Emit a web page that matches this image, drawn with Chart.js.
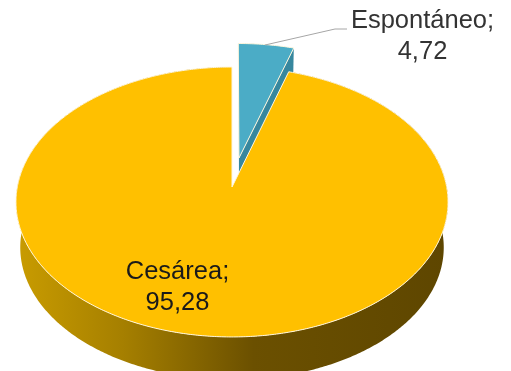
<!DOCTYPE html>
<html>
<head>
<meta charset="utf-8">
<title>Tipo de parto</title>
<script src="https://cdn.jsdelivr.net/npm/chart.js@4/dist/chart.umd.js"></script>
<style>
  html, body { margin: 0; padding: 0; background: #fff; }
  canvas { display: block; }
</style>
</head>
<body>
<canvas id="myChart" width="511" height="371"></canvas>
<script>
const categories = ['Espontáneo', 'Cesárea'];
const values = [4.72, 95.28];

// colours per slice, same order as categories
const sliceColors = ['#4BACC6', '#FFC000'];
const explode = [0.225, 0];

// label placement: [centre x, first baseline]
const labelPos = [[422.5, 28], [177.5, 279]];
const labelColors = ['#333333', '#1a1a1a'];
const leader = [[265, 45], [335, 29], [347, 29]];

// perspective of the tilted disc
const cx = 232, cy = 187;
const radiusX = 214.7, radiusY = 133.3, persp = 0.111;
const depthY = 46, depthScale = 0.02;

// unit disc coordinates -> canvas, z = 0 top face, z = 1 bottom face
function project(u, v, z) {
    const w = 1 / (1 - persp * v + depthScale * z);
    return [cx + radiusX * u * w, cy + depthY * z + radiusY * v * w];
}

function rimPoints(arc, index, z) {
    const mid = (arc.startAngle + arc.endAngle) / 2;
    const ox = Math.cos(mid) * explode[index];
    const oy = Math.sin(mid) * explode[index];
    const steps = Math.ceil((arc.endAngle - arc.startAngle) / 0.01);
    const pts = [];
    for (let i = 0; i <= steps; i++) {
        const a = arc.startAngle + (arc.endAngle - arc.startAngle) * i / steps;
        pts.push(project(ox + Math.cos(a), oy + Math.sin(a), z));
    }
    return { pts: pts, apex: project(ox, oy, z) };
}

function tracePath(ctx, pts) {
    ctx.beginPath();
    pts.forEach((p, i) => {
        if (i == 0) ctx.moveTo(p[0], p[1]);
        else ctx.lineTo(p[0], p[1]);
    });
    ctx.closePath();
}

const pie3d = {
    id: 'pie3d',
    beforeDatasetsDraw(chart) {
        const ctx = chart.ctx;
        const arcs = chart.getDatasetMeta(0).data;

        // shading of the outer wall, lit from the left
        const wall = ctx.createLinearGradient(16, 0, 448, 0);
        wall.addColorStop(0, '#C99C00');
        wall.addColorStop(0.25, '#A57F00');
        wall.addColorStop(0.55, '#6B5000');
        wall.addColorStop(1, '#5E4600');

        // the small slice sits behind the large one
        arcs.forEach((arc, i) => {
            const top = rimPoints(arc, i, 0);
            const bottom = rimPoints(arc, i, 1);
            const last = top.pts.length - 1;

            if (i == 0) {
                ctx.fillStyle = '#37879E';
                tracePath(ctx, [top.apex, top.pts[last], bottom.pts[last], bottom.apex]);
                ctx.fill();
            } else {
                ctx.fillStyle = wall;
                tracePath(ctx, top.pts.concat(bottom.pts.slice().reverse()));
                ctx.fill();
            }

            tracePath(ctx, [top.apex].concat(top.pts));
            ctx.fillStyle = arc.options.backgroundColor;
            ctx.fill();
            ctx.strokeStyle = arc.options.borderColor;
            ctx.lineWidth = arc.options.borderWidth;
            ctx.stroke();
        });
        // skip the flat arcs
        return false;
    },
    afterDraw(chart) {
        const ctx = chart.ctx;

        ctx.beginPath();
        leader.forEach((p, i) => {
            if (i == 0) ctx.moveTo(p[0], p[1]);
            else ctx.lineTo(p[0], p[1]);
        });
        ctx.strokeStyle = '#A6A6A6';
        ctx.lineWidth = 1;
        ctx.stroke();

        ctx.font = '25.5px "Liberation Sans"';
        ctx.textAlign = 'center';
        ctx.textBaseline = 'alphabetic';
        categories.forEach((name, i) => {
            ctx.fillStyle = labelColors[i];
            ctx.fillText(name + ';', labelPos[i][0], labelPos[i][1]);
            ctx.fillText(String(values[i]).replace('.', ','), labelPos[i][0], labelPos[i][1] + 31);
        });
    }
};

new Chart(document.getElementById('myChart').getContext('2d'), {
    type: 'pie',
    data: {
        labels: categories,
        datasets: [{
            data: values,
            backgroundColor: sliceColors,
            borderColor: '#FFF6DC',
            borderWidth: 1
        }]
    },
    options: {
        responsive: false,
        animation: false,
        plugins: {
            legend: { display: false },
            tooltip: { enabled: false }
        }
    },
    plugins: [pie3d]
});
</script>
</body>
</html>
